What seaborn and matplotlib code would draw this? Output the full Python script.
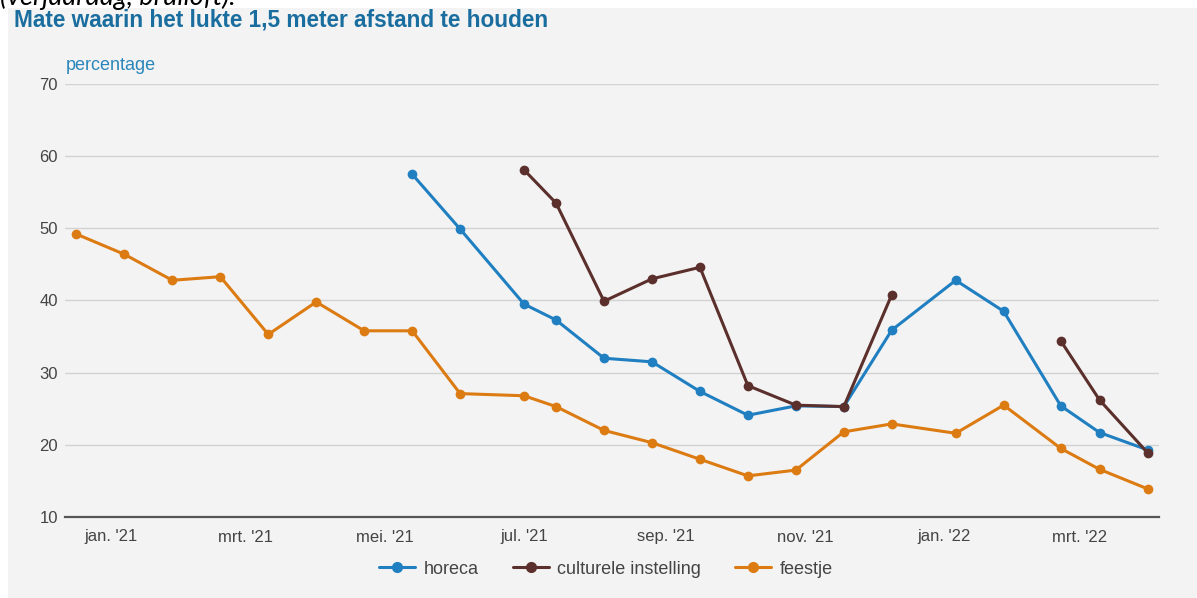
import numpy as np
import pandas as pd
import seaborn as sns
import matplotlib.pyplot as plt
from matplotlib.patches import Rectangle

# survey rounds (roughly every 3 weeks)
dates = ["2020-12-17", "2021-01-07", "2021-01-28", "2021-02-18", "2021-03-11",
         "2021-04-01", "2021-04-22", "2021-05-13", "2021-06-03", "2021-07-01",
         "2021-07-15", "2021-08-05", "2021-08-26", "2021-09-16", "2021-10-07",
         "2021-10-28", "2021-11-18", "2021-12-09", "2022-01-06", "2022-01-27",
         "2022-02-21", "2022-03-10", "2022-03-31"]
nan = np.nan
horeca = [nan, nan, nan, nan, nan, nan, nan, 57.5, 49.9, 39.5, 37.3, 32.0,
          31.5, 27.4, 24.1, 25.4, 25.3, 35.9, 42.8, 38.5, 25.4, 21.7, 19.3]
cultuur = [nan, nan, nan, nan, nan, nan, nan, nan, nan, 58.1, 53.5, 39.9,
           43.0, 44.6, 28.2, 25.5, 25.3, 40.8, nan, nan, 34.4, 26.2, 18.9]
feestje = [49.2, 46.4, 42.8, 43.3, 35.3, 39.8, 35.8, 35.8, 27.1, 26.8, 25.3,
           22.0, 20.3, 18.0, 15.7, 16.5, 21.8, 22.9, 21.6, 25.5, 19.5, 16.6, 13.9]

series_names = ["horeca", "culturele instelling", "feestje"]
colors = ["#1f7fc1", "#5b2f2b", "#dc7b12"]

tick_dates = ["2021-01-01", "2021-03-01", "2021-05-01", "2021-07-01",
              "2021-09-01", "2021-11-01", "2022-01-01", "2022-03-01"]
tick_labels = ["jan. '21", "mrt. '21", "mei. '21", "jul. '21",
               "sep. '21", "nov. '21", "jan. '22", "mrt. '22"]
y_ticks = [10, 20, 30, 40, 50, 60, 70]

# long table; a new segment starts after each gap so the lines break there
rows = []
for name, vals in zip(series_names, [horeca, cultuur, feestje]):
    seg = 0
    prev_nan = True
    for d, v in zip(dates, vals):
        if np.isnan(v):
            prev_nan = True
            continue
        if prev_nan:
            seg += 1
            prev_nan = False
        rows.append({"datum": pd.Timestamp(d), "waarde": v, "serie": name,
                     "segment": name + str(seg)})
df = pd.DataFrame(rows)

sns.set_style("white")
plt.rcParams['font.family'] = ['Liberation Sans', 'DejaVu Sans']

bg = "#f3f3f3"
fig = plt.figure(figsize=(11.97, 5.98), dpi=100, facecolor="white")
fig.patches.append(Rectangle((8 / 1197, 0), 1, 1 - 8 / 598, transform=fig.transFigure,
                             facecolor=bg, edgecolor="none", zorder=-1))
ax = fig.add_axes([65 / 1197, 1 - 517 / 598, (1159 - 65) / 1197, (517 - 84) / 598])
ax.set_facecolor(bg)

sns.lineplot(data=df, x="datum", y="waarde", hue="serie", units="segment",
             estimator=None, hue_order=series_names, palette=colors,
             marker="o", markersize=7, markeredgewidth=0, linewidth=2.2,
             ax=ax, legend=False)

ax.set_ylim(10, 70)
ax.set_yticks(y_ticks)
ax.set_xlim(pd.Timestamp("2020-12-12"), pd.Timestamp("2022-04-05"))
ax.set_xticks([pd.Timestamp(t) for t in tick_dates])
ax.set_xticklabels(tick_labels)
ax.set_xlabel("")
ax.set_ylabel("")
ax.grid(axis="y", color="#d2d2d2", linewidth=1)
ax.grid(axis="x", visible=False)
for s in ["top", "right", "left"]:
    ax.spines[s].set_visible(False)
ax.spines["bottom"].set_color("#555555")
ax.spines["bottom"].set_linewidth(1.6)
ax.tick_params(axis="x", length=4, width=1, color="#777777", labelsize=12,
               labelcolor="#444444", pad=5, direction="out")
ax.tick_params(axis="y", length=0, labelsize=12, labelcolor="#444444", pad=5)
ax.set_axisbelow(True)

# legend
handles = [plt.Line2D([], [], color=c, marker="o", markersize=7, linewidth=2.2)
           for c in colors]
fig.legend(handles, series_names, loc="center", bbox_to_anchor=(606 / 1197, 1 - 569 / 598),
           ncol=3, frameon=False, fontsize=13, handlelength=2.0, columnspacing=1.9,
           labelcolor="#444444", handletextpad=0.45)

fig.text(14 / 1197, 1 - 20 / 598, "Mate waarin het lukte 1,5 meter afstand te houden",
         fontsize=16.3, fontweight="bold", color="#1a6e9f", va="center", ha="left")
fig.text(66 / 1197, 1 - 66 / 598, "percentage", fontsize=13, color="#2a86bb",
         va="center", ha="left")
# caption line above the chart, cut off at the top edge as in the source
fig.text(0, 1 - 4.5 / 598, "(verjaardag, bruiloft).", fontsize=19.5, style="italic",
         color="black", va="baseline", ha="left", family=["Lato", "DejaVu Sans"])

fig.savefig("out.png", dpi=100, facecolor="white")
